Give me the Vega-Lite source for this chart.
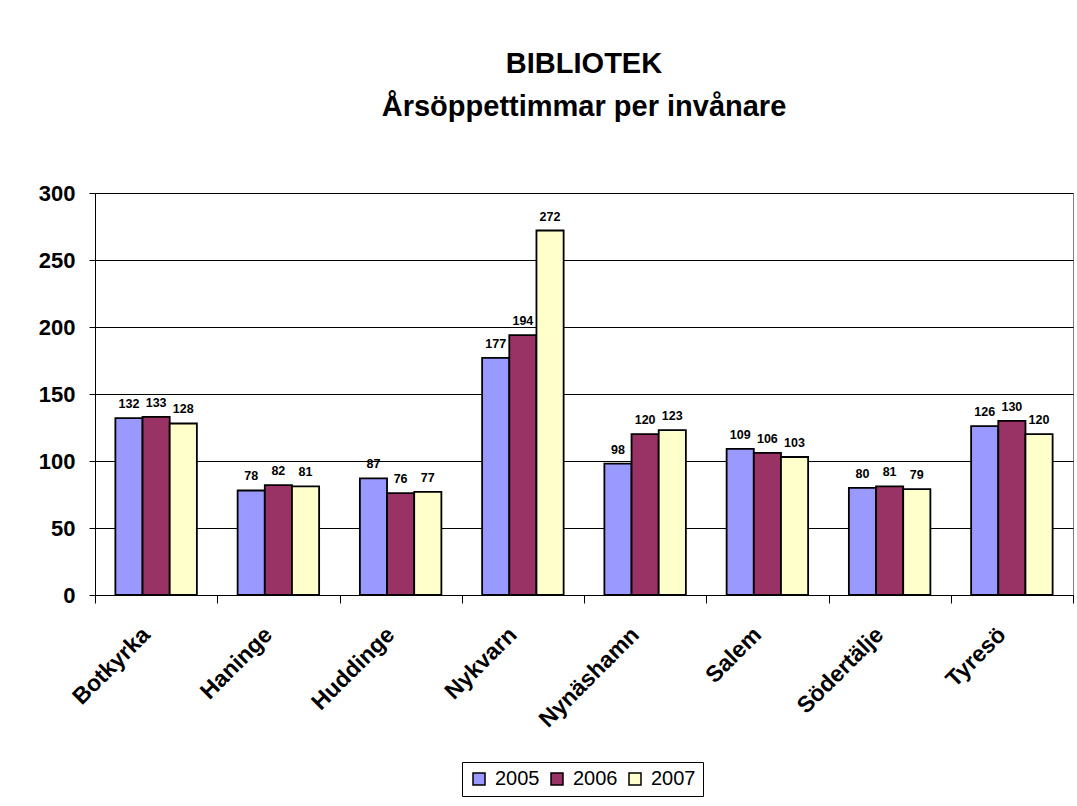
{
  "$schema": "https://vega.github.io/schema/vega-lite/v6.json",
  "autosize": "none",
  "width": 978,
  "height": 402,
  "padding": {"left": 95, "top": 193, "right": 4, "bottom": 211},
  "background": "white",
  "title": {
    "text": ["BIBLIOTEK", "Årsöppettimmar per invånare"],
    "font": "Liberation Sans",
    "fontSize": 29,
    "fontWeight": "bold",
    "color": "black",
    "lineHeight": 43,
    "anchor": "middle",
    "offset": 60
  },
  "config": {
    "view": {"stroke": "#808080", "strokeWidth": 1},
    "font": "Liberation Sans"
  },
  "data": {
    "values": [
      {"kommun": "Botkyrka", "year": "2005", "value": 132},
      {"kommun": "Botkyrka", "year": "2006", "value": 133},
      {"kommun": "Botkyrka", "year": "2007", "value": 128},
      {"kommun": "Haninge", "year": "2005", "value": 78},
      {"kommun": "Haninge", "year": "2006", "value": 82},
      {"kommun": "Haninge", "year": "2007", "value": 81},
      {"kommun": "Huddinge", "year": "2005", "value": 87},
      {"kommun": "Huddinge", "year": "2006", "value": 76},
      {"kommun": "Huddinge", "year": "2007", "value": 77},
      {"kommun": "Nykvarn", "year": "2005", "value": 177},
      {"kommun": "Nykvarn", "year": "2006", "value": 194},
      {"kommun": "Nykvarn", "year": "2007", "value": 272},
      {"kommun": "Nynäshamn", "year": "2005", "value": 98},
      {"kommun": "Nynäshamn", "year": "2006", "value": 120},
      {"kommun": "Nynäshamn", "year": "2007", "value": 123},
      {"kommun": "Salem", "year": "2005", "value": 109},
      {"kommun": "Salem", "year": "2006", "value": 106},
      {"kommun": "Salem", "year": "2007", "value": 103},
      {"kommun": "Södertälje", "year": "2005", "value": 80},
      {"kommun": "Södertälje", "year": "2006", "value": 81},
      {"kommun": "Södertälje", "year": "2007", "value": 79},
      {"kommun": "Tyresö", "year": "2005", "value": 126},
      {"kommun": "Tyresö", "year": "2006", "value": 130},
      {"kommun": "Tyresö", "year": "2007", "value": 120}
    ]
  },
  "encoding": {
    "x": {
      "field": "kommun",
      "type": "nominal",
      "sort": null,
      "scale": {"paddingInner": 0, "paddingOuter": 0},
      "axis": {
        "title": null,
        "labelAngle": -45,
        "labelAlign": "right",
        "labelBaseline": "top",
        "labelFontSize": 23,
        "labelFontWeight": "bold",
        "labelColor": "black",
        "labelPadding": 20,
        "labelOffset": -18,
        "labelFont": "Liberation Sans",
        "domainColor": "black",
        "tickColor": "black",
        "tickSize": 8,
        "tickBand": "extent",
        "grid": false
      }
    },
    "xOffset": {
      "field": "year",
      "type": "nominal",
      "scale": {"paddingInner": 0, "paddingOuter": 0.75}
    },
    "y": {
      "field": "value",
      "type": "quantitative",
      "scale": {"domain": [0, 300], "nice": false},
      "axis": {
        "title": null,
        "values": [0, 50, 100, 150, 200, 250, 300],
        "labelFontSize": 22,
        "labelFontWeight": "bold",
        "labelColor": "black",
        "labelFont": "Liberation Sans",
        "labelPadding": 14,
        "domainColor": "black",
        "tickColor": "black",
        "tickSize": 6,
        "gridColor": "black",
        "gridWidth": 1,
        "gridOpacity": 1
      }
    }
  },
  "layer": [
    {
      "mark": {"type": "bar", "stroke": "black", "strokeWidth": 1.8, "opacity": 1},
      "encoding": {
        "color": {
          "field": "year",
          "type": "nominal",
          "scale": {"domain": ["2005", "2006", "2007"], "range": ["#9999FF", "#993366", "#FFFFCC"]},
          "legend": {
            "title": null,
            "orient": "none",
            "legendX": 367,
            "legendY": 569,
            "direction": "horizontal",
            "symbolType": "square",
            "symbolSize": 144,
            "symbolStrokeColor": "black",
            "symbolStrokeWidth": 1.5,
            "symbolOpacity": 1,
            "labelFontSize": 20,
            "labelFont": "Liberation Sans",
            "labelColor": "black",
            "columnPadding": 7,
            "labelOffset": 6,
            "strokeColor": "black",
            "padding": 7
          }
        }
      }
    },
    {
      "mark": {"type": "text", "dy": -10, "baseline": "alphabetic", "fontSize": 12.5, "fontWeight": "bold", "font": "Liberation Sans", "color": "black"},
      "encoding": {
        "text": {"field": "value", "type": "quantitative"}
      }
    }
  ]
}
